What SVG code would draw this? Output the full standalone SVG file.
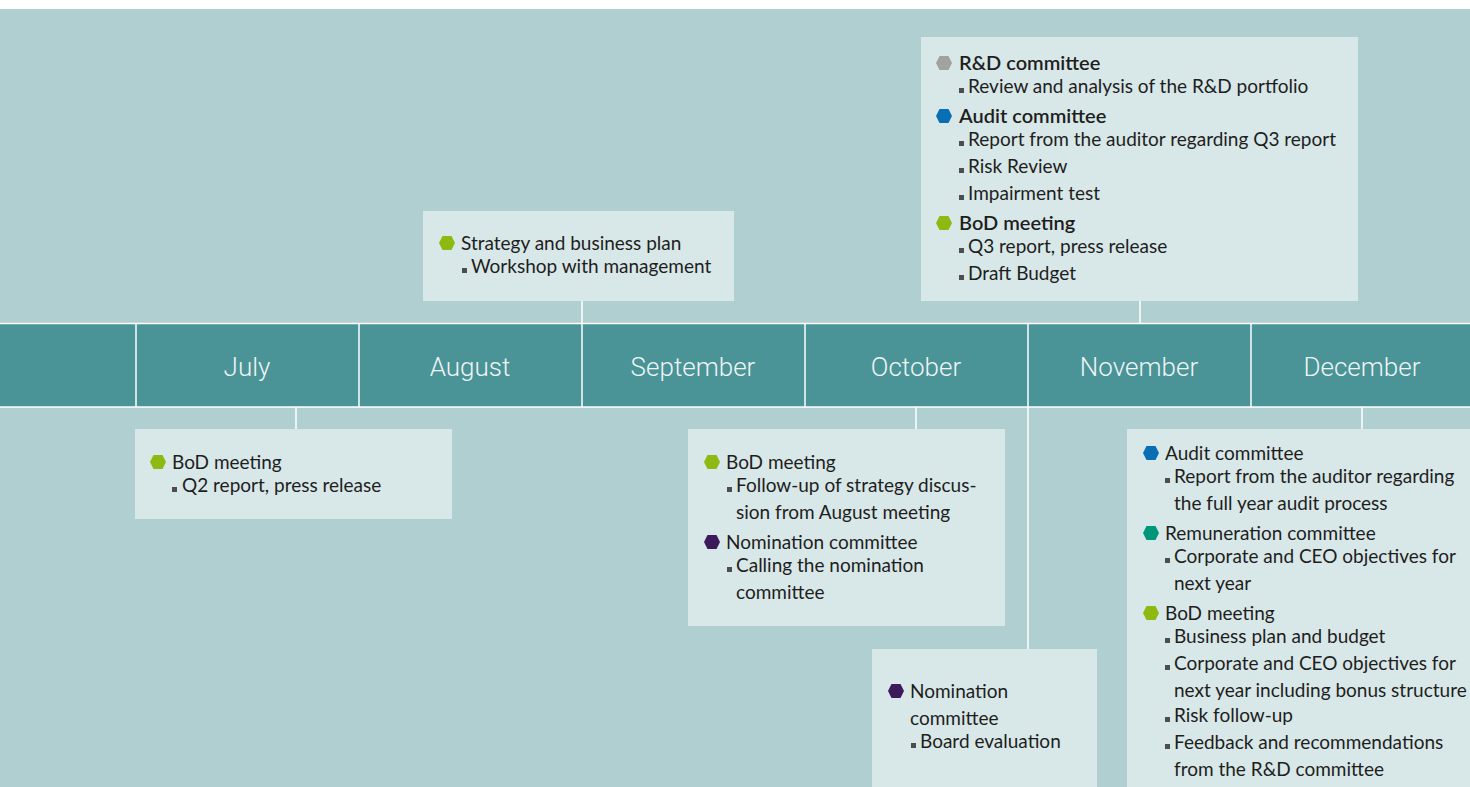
<svg xmlns="http://www.w3.org/2000/svg" xmlns:xlink="http://www.w3.org/1999/xlink" width="1470" height="787" viewBox="0 0 1470 787">
<defs>
<style>
.bg{fill:#b0cfd1}
.band{fill:#4a9396}
.box{fill:#d8e7e7}
.wl{stroke:#ffffff;stroke-width:1.5;fill:none}
.month{font-family:Roboto,"Liberation Sans",sans-serif;font-weight:300;font-size:26px;fill:#eef5f5;text-anchor:middle}
.t{font-family:Lato,"Noto Sans",sans-serif;font-size:19px;fill:#1e1e1e}
.hb{font-weight:600;font-size:20px}
.bul{fill:#4d4d4f}
</style>
<path id="hex" d="M-8,0 L-4.5,-7 L4.5,-7 L8,0 L4.5,7 L-4.5,7 Z"/>
<rect id="sq" x="0" y="-5" width="5" height="5"/>
</defs>
<rect x="0" y="0" width="1470" height="787" fill="#ffffff"/>
<rect class="bg" x="0" y="9" width="1470" height="778"/>
<g id="timeline">
<rect class="band" x="0" y="324" width="1470" height="83"/>
<line class="wl" x1="0" y1="323.5" x2="1470" y2="323.5"/>
<line class="wl" x1="0" y1="407" x2="1470" y2="407"/>
<line class="wl" x1="136" y1="324" x2="136" y2="407"/>
<line class="wl" x1="359" y1="324" x2="359" y2="407"/>
<line class="wl" x1="582" y1="324" x2="582" y2="407"/>
<line class="wl" x1="805" y1="324" x2="805" y2="407"/>
<line class="wl" x1="1028" y1="324" x2="1028" y2="407"/>
<line class="wl" x1="1251" y1="324" x2="1251" y2="407"/>
<text class="month" x="247" y="376">July</text>
<text class="month" x="470" y="376">August</text>
<text class="month" x="693" y="376">September</text>
<text class="month" x="916" y="376">October</text>
<text class="month" x="1139" y="376">November</text>
<text class="month" x="1362" y="376">December</text>
</g>
<g id="connectors">
<line class="wl" x1="296" y1="407" x2="296" y2="429"/>
<line class="wl" x1="582" y1="301" x2="582" y2="323"/>
<line class="wl" x1="916" y1="407" x2="916" y2="429"/>
<line class="wl" x1="1140" y1="301" x2="1140" y2="323"/>
<line class="wl" x1="1028" y1="407" x2="1028" y2="649"/>
<line class="wl" x1="1362" y1="407" x2="1362" y2="429"/>
</g>
<g id="node-august">
<rect class="box" x="423" y="211" width="311" height="90"/>
<use xlink:href="#hex" x="447" y="243" fill="#8cba12"/>
<text class="t" x="461" y="250">Strategy and business plan</text>
<use xlink:href="#sq" class="bul" x="462" y="273"/>
<text class="t" x="471" y="273">Workshop with management</text>
</g>
<g id="node-november-top">
<rect class="box" x="921" y="37" width="437" height="264"/>
<use xlink:href="#hex" x="944" y="63" fill="#a2a2a2"/>
<text class="t hb" x="959" y="70">R&amp;D committee</text>
<use xlink:href="#sq" class="bul" x="959" y="93"/>
<text class="t" x="968" y="93">Review and analysis of the R&amp;D portfolio</text>
<use xlink:href="#hex" x="944" y="116" fill="#0a6eb4"/>
<text class="t hb" x="959" y="123">Audit committee</text>
<use xlink:href="#sq" class="bul" x="959" y="146"/>
<text class="t" x="968" y="146">Report from the auditor regarding Q3 report</text>
<use xlink:href="#sq" class="bul" x="959" y="173"/>
<text class="t" x="968" y="173">Risk Review</text>
<use xlink:href="#sq" class="bul" x="959" y="200"/>
<text class="t" x="968" y="200">Impairment test</text>
<use xlink:href="#hex" x="944" y="223" fill="#8cba12"/>
<text class="t hb" x="959" y="230">BoD meeting</text>
<use xlink:href="#sq" class="bul" x="959" y="253"/>
<text class="t" x="968" y="253">Q3 report, press release</text>
<use xlink:href="#sq" class="bul" x="959" y="280"/>
<text class="t" x="968" y="280">Draft Budget</text>
</g>
<g id="node-july">
<rect class="box" x="135" y="429" width="317" height="90"/>
<use xlink:href="#hex" x="158" y="462" fill="#8cba12"/>
<text class="t" x="172" y="469">BoD meeting</text>
<use xlink:href="#sq" class="bul" x="172" y="492"/>
<text class="t" x="182" y="492">Q2 report, press release</text>
</g>
<g id="node-october">
<rect class="box" x="688" y="429" width="317" height="197"/>
<use xlink:href="#hex" x="712" y="462" fill="#8cba12"/>
<text class="t" x="726" y="469">BoD meeting</text>
<use xlink:href="#sq" class="bul" x="727" y="492"/>
<text class="t" x="736" y="492">Follow-up of strategy discus-</text>
<text class="t" x="736" y="519">sion from August meeting</text>
<use xlink:href="#hex" x="712" y="542" fill="#3d1a5c"/>
<text class="t" x="726" y="549">Nomination committee</text>
<use xlink:href="#sq" class="bul" x="727" y="572"/>
<text class="t" x="736" y="572">Calling the nomination</text>
<text class="t" x="736" y="599">committee</text>
</g>
<g id="node-nomination">
<rect class="box" x="872" y="649" width="225" height="138"/>
<use xlink:href="#hex" x="896" y="691" fill="#3d1a5c"/>
<text class="t" x="910" y="698">Nomination</text>
<text class="t" x="910" y="725">committee</text>
<use xlink:href="#sq" class="bul" x="911" y="748"/>
<text class="t" x="920" y="748">Board evaluation</text>
</g>
<g id="node-december">
<rect class="box" x="1127" y="429" width="343" height="358"/>
<use xlink:href="#hex" x="1151" y="453" fill="#0a6eb4"/>
<text class="t" x="1165" y="460">Audit committee</text>
<use xlink:href="#sq" class="bul" x="1165" y="483"/>
<text class="t" x="1174" y="483">Report from the auditor regarding</text>
<text class="t" x="1174" y="510">the full year audit process</text>
<use xlink:href="#hex" x="1151" y="533" fill="#00967a"/>
<text class="t" x="1165" y="540">Remuneration committee</text>
<use xlink:href="#sq" class="bul" x="1165" y="563"/>
<text class="t" x="1174" y="563">Corporate and CEO objectives for</text>
<text class="t" x="1174" y="590">next year</text>
<use xlink:href="#hex" x="1151" y="613" fill="#8cba12"/>
<text class="t" x="1165" y="620">BoD meeting</text>
<use xlink:href="#sq" class="bul" x="1165" y="643"/>
<text class="t" x="1174" y="643">Business plan and budget</text>
<use xlink:href="#sq" class="bul" x="1165" y="670"/>
<text class="t" x="1174" y="670">Corporate and CEO objectives for</text>
<text class="t" x="1174" y="697">next year including bonus structure</text>
<use xlink:href="#sq" class="bul" x="1165" y="722"/>
<text class="t" x="1174" y="722">Risk follow-up</text>
<use xlink:href="#sq" class="bul" x="1165" y="749"/>
<text class="t" x="1174" y="749">Feedback and recommendations</text>
<text class="t" x="1174" y="776">from the R&amp;D committee</text>
</g>
</svg>
